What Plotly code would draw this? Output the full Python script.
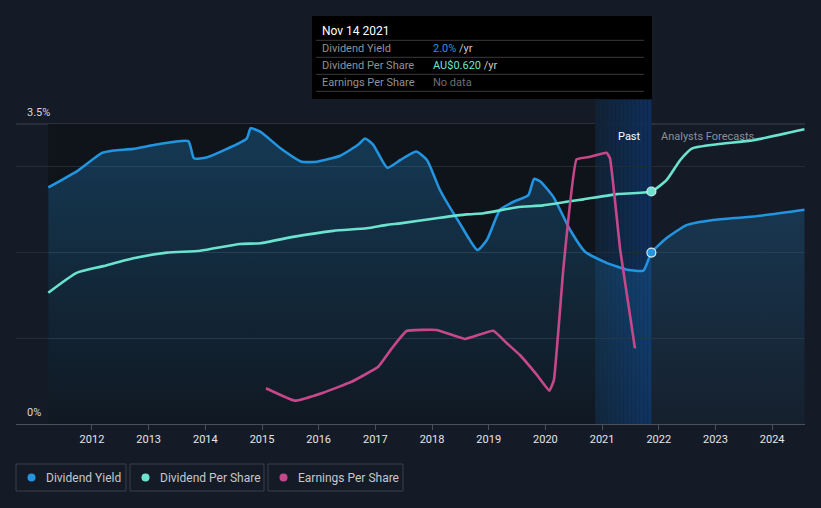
import plotly.graph_objects as go

# ---------------- data ----------------
YEAR_TICKS = list(range(2012, 2025))

# Dividend Yield (%), past + analyst forecast
DY_X = [2011.23, 2011.76, 2012.17, 2012.38, 2012.73, 2013.14, 2013.70, 2013.80,
        2014.02, 2014.38, 2014.73, 2014.80, 2014.97, 2015.32, 2015.70, 2015.97,
        2016.38, 2016.70, 2016.82, 2016.96, 2017.21, 2017.44, 2017.72, 2017.91,
        2018.14, 2018.49, 2018.80, 2018.97, 2019.20, 2019.43, 2019.70, 2019.80,
        2019.91, 2020.14, 2020.44, 2020.70, 2021.08, 2021.44, 2021.73, 2021.87,
        2022.14, 2022.49, 2022.96, 2023.67, 2024.57]
DY_Y = [2.76, 2.96, 3.16, 3.19, 3.21, 3.26, 3.30, 3.10,
        3.11, 3.21, 3.33, 3.45, 3.41, 3.22, 3.06, 3.06,
        3.13, 3.26, 3.33, 3.26, 2.99, 3.08, 3.18, 3.08,
        2.73, 2.34, 2.03, 2.15, 2.50, 2.59, 2.67, 2.86,
        2.83, 2.65, 2.26, 2.01, 1.88, 1.80, 1.79, 2.00,
        2.17, 2.32, 2.38, 2.42, 2.50]

# Dividend Per Share (AU$)
DPS_X = [2011.23, 2011.73, 2012.20, 2012.73, 2013.32, 2013.91, 2014.61, 2014.97,
         2015.55, 2016.26, 2016.85, 2017.20, 2017.44, 2018.14, 2018.61, 2018.91,
         2019.50, 2019.96, 2020.67, 2021.26, 2021.87,
         2022.14, 2022.38, 2022.59, 2023.03, 2023.67, 2024.57]
DPS_Y = [0.350, 0.403, 0.421, 0.442, 0.457, 0.462, 0.480, 0.482,
         0.499, 0.515, 0.522, 0.531, 0.535, 0.550, 0.559, 0.562,
         0.578, 0.583, 0.599, 0.613, 0.620,
         0.651, 0.704, 0.735, 0.746, 0.757, 0.786]

# Earnings Per Share (AU$)
EPS_X = [2015.07, 2015.58, 2016.08, 2016.58, 2017.05, 2017.29, 2017.55, 2018.08,
         2018.58, 2019.08, 2019.32, 2019.55, 2019.85, 2020.07, 2020.15, 2020.32,
         2020.55, 2020.79, 2021.08, 2021.14, 2021.32, 2021.58]
EPS_Y = [0.167, 0.109, 0.146, 0.197, 0.267, 0.353, 0.434, 0.439,
         0.397, 0.435, 0.377, 0.322, 0.229, 0.155, 0.205, 0.734,
         1.235, 1.247, 1.266, 1.240, 0.812, 0.353]

TODAY = 2021.87            # Nov 14 2021 (past / forecast boundary)
LAST_YEAR_START = 2020.88  # start of highlighted "Past" band
DY_TODAY = 2.0
DPS_TODAY = 0.620

# ---------------- style ----------------
BG = "#151b26"
PAST_BG = "#0f131a"
BLUE = "#2394df"
TEAL = "#6ce3cf"
PINK = "#c7488a"
FONT = "Roboto"

Y_MAX_LABEL = 3.5
Y_TOP = 3.78
X_RANGE = [2010.66, 2024.58]

# plot area in pixels
L, R, T, B = 16, 805, 100, 424
def PX(x):
    return (x - L) / (R - L)
def PY(y):
    return (B - y) / (B - T)

fig = go.Figure()

fig.add_trace(go.Scatter(
    x=DY_X, y=DY_Y, mode="lines", name="Dividend Yield",
    line=dict(color=BLUE, width=2.6, shape="spline", smoothing=0.5),
    fill="tozeroy",
    fillgradient=dict(type="vertical", start=0, stop=Y_MAX_LABEL,
                      colorscale=[[0, "rgba(35,148,223,0.04)"],
                                  [1, "rgba(35,148,223,0.30)"]]),
    hoverinfo="skip"))

fig.add_trace(go.Scatter(
    x=DPS_X, y=DPS_Y, mode="lines", name="Dividend Per Share", yaxis="y2",
    line=dict(color=TEAL, width=2.6, shape="spline", smoothing=0.5),
    hoverinfo="skip"))

fig.add_trace(go.Scatter(
    x=EPS_X, y=EPS_Y, mode="lines", name="Earnings Per Share", yaxis="y3",
    line=dict(color=PINK, width=2.6, shape="spline", smoothing=0.3),
    hoverinfo="skip"))

fig.add_trace(go.Scatter(
    x=[TODAY], y=[DY_TODAY], mode="markers",
    marker=dict(color=BLUE, size=9, line=dict(color="#dfe6ee", width=1.2)),
    hoverinfo="skip"))
fig.add_trace(go.Scatter(
    x=[TODAY], y=[DPS_TODAY], mode="markers", yaxis="y2",
    marker=dict(color=TEAL, size=9, line=dict(color="#dfe6ee", width=1.2)),
    hoverinfo="skip"))

shapes = []
# darker past background
shapes.append(dict(type="rect", xref="x", yref="y", x0=DY_X[0], x1=LAST_YEAR_START,
                   y0=0, y1=Y_MAX_LABEL, fillcolor=PAST_BG, line=dict(width=0),
                   layer="below"))
# highlighted last-year band (horizontal gradient via strips)
n = 14
c0 = (17, 33, 52)
c1 = (14, 48, 92)
for i in range(n):
    f = (i + 0.5) / n
    col = tuple(int(round(c0[k] + (c1[k] - c0[k]) * f)) for k in range(3))
    xa = LAST_YEAR_START + (TODAY - LAST_YEAR_START) * i / n
    xb = LAST_YEAR_START + (TODAY - LAST_YEAR_START) * (i + 1) / n
    shapes.append(dict(type="rect", xref="x", yref="y", x0=xa, x1=xb,
                       y0=0, y1=Y_TOP, fillcolor="rgb(%d,%d,%d)" % col,
                       line=dict(width=0), layer="below"))
# top 3.5% line
shapes.append(dict(type="line", xref="paper", yref="y", x0=0, x1=1,
                   y0=Y_MAX_LABEL, y1=Y_MAX_LABEL,
                   line=dict(color="#3f4550", width=1), layer="below"))

# tooltip box
shapes.append(dict(type="rect", xref="paper", yref="paper",
                   x0=PX(312), x1=PX(652), y0=PY(99), y1=PY(16),
                   fillcolor="#000000", line=dict(width=0), layer="above"))
for yy in [40.3, 57.3, 74.3, 91.3]:
    shapes.append(dict(type="line", xref="paper", yref="paper",
                       x0=PX(316), x1=PX(644), y0=PY(yy), y1=PY(yy),
                       line=dict(color="#3a3a3a", width=1), layer="above"))

# legend boxes
legend_items = [
    ("Dividend Yield", BLUE, 16, 126),
    ("Dividend Per Share", TEAL, 130, 264),
    ("Earnings Per Share", PINK, 268, 403),
]
annotations = []
for label, col, xa, xb in legend_items:
    shapes.append(dict(type="rect", xref="paper", yref="paper",
                       x0=PX(xa), x1=PX(xb), y0=PY(491), y1=PY(464),
                       fillcolor="rgba(0,0,0,0)",
                       line=dict(color="#3a404b", width=1)))
    cx, cy, r = xa + 15.5, 477.5, 4
    shapes.append(dict(type="circle", xref="paper", yref="paper",
                       x0=PX(cx - r), x1=PX(cx + r), y0=PY(cy + r), y1=PY(cy - r),
                       fillcolor=col, line=dict(width=0)))
    annotations.append(dict(xref="paper", yref="paper", x=PX(xa + 28), y=PY(477.5),
                            text=label, showarrow=False, xanchor="left", yanchor="middle",
                            font=dict(family=FONT, size=12, color="#c3c7ce")))

# axis labels
annotations.append(dict(xref="paper", yref="paper", x=PX(25), y=PY(113), text="3.5%",
                        showarrow=False, xanchor="left", yanchor="middle",
                        font=dict(family=FONT, size=11, color="#d6d8dc")))
annotations.append(dict(xref="paper", yref="paper", x=PX(25), y=PY(412), text="0%",
                        showarrow=False, xanchor="left", yanchor="middle",
                        font=dict(family=FONT, size=11, color="#d6d8dc")))
# Past / forecast labels
annotations.append(dict(xref="paper", yref="paper", x=PX(643), y=PY(136), text="Past",
                        showarrow=False, xanchor="right", yanchor="middle",
                        font=dict(family=FONT, size=11, color="#ffffff")))
annotations.append(dict(xref="paper", yref="paper", x=PX(659), y=PY(136),
                        text="Analysts Forecasts",
                        showarrow=False, xanchor="left", yanchor="middle",
                        font=dict(family=FONT, size=11, color="#8a9099")))
# tooltip text
annotations.append(dict(xref="paper", yref="paper", x=PX(320), y=PY(31), text="Nov 14 2021",
                        showarrow=False, xanchor="left", yanchor="middle",
                        font=dict(family=FONT, size=12, color="#ffffff")))
rows = [
    ("Dividend Yield", "<span style='color:%s'>2.0%%</span> /yr" % BLUE, 48.7),
    ("Dividend Per Share", "<span style='color:%s'>AU$0.620</span> /yr" % TEAL, 65.7),
    ("Earnings Per Share", "<span style='color:#6b6f76'>No data</span>", 82.7),
]
for lab, val, yy in rows:
    annotations.append(dict(xref="paper", yref="paper", x=PX(320), y=PY(yy), text=lab,
                            showarrow=False, xanchor="left", yanchor="middle",
                            font=dict(family=FONT, size=11, color="#8e9299")))
    annotations.append(dict(xref="paper", yref="paper", x=PX(431), y=PY(yy), text=val,
                            showarrow=False, xanchor="left", yanchor="middle",
                            font=dict(family=FONT, size=11, color="#c8cacd")))

fig.update_layout(
    width=821, height=508,
    margin=dict(l=L, r=821 - R, t=T, b=508 - B),
    paper_bgcolor=BG, plot_bgcolor=BG,
    showlegend=False, hovermode=False,
    font=dict(family=FONT, color="#d6d8dc"),
    xaxis=dict(range=X_RANGE, tickvals=YEAR_TICKS, ticktext=[str(y) for y in YEAR_TICKS],
               showgrid=False, zeroline=False, showline=True, linecolor="#4a505a",
               linewidth=1, ticks="outside", ticklen=5, tickcolor="#4a505a",
               tickfont=dict(family=FONT, size=11, color="#e4e6e9"), fixedrange=True),
    yaxis=dict(range=[0, Y_TOP], tickvals=[1, 2, 3], showticklabels=False,
               gridcolor="#252b36", gridwidth=1, zeroline=False, fixedrange=True),
    yaxis2=dict(range=[0, 0.8 * Y_TOP / Y_MAX_LABEL], overlaying="y", visible=False,
                fixedrange=True),
    yaxis3=dict(range=[0, 1.4 * Y_TOP / Y_MAX_LABEL], overlaying="y", visible=False,
                fixedrange=True),
    shapes=shapes, annotations=annotations,
)

fig.write_html("out.html", config={"displayModeBar": False},
               post_script="document.body.style.margin='0';document.body.style.background='%s';" % BG)
